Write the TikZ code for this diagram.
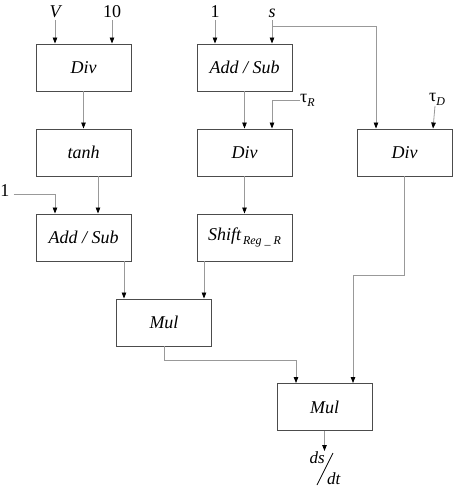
\documentclass[tikz,border=0pt]{standalone}
\usepackage{fontspec}
\setmainfont{Liberation Serif}
\usetikzlibrary{arrows.meta}

\tikzset{
    blk/.style={draw=black!70, line width=0.9pt, minimum width=95pt, minimum height=47pt, inner sep=0pt, font=\fontsize{18}{20}\selectfont\itshape},
    wire/.style={draw=black!40, line width=0.8pt},
    arr/.style={wire, -{Triangle[length=6pt,width=4.5pt,black]}},
    lbl/.style={inner sep=0pt, anchor=base}
}
\newcommand{\sml}{\fontsize{12}{12}\selectfont\itshape}

\begin{document}
\begin{tikzpicture}[x=1pt, y=-1pt, font=\fontsize{18}{20}\selectfont]

\useasboundingbox (0,0) rectangle (454,487);

% blocks
\node[blk] (div1)  at (83.5,67.5)  {Div};
\node[blk] (tanh)  at (83.5,152.5) {tanh};
\node[blk] (addL)  at (83.5,237.5) {Add / Sub};
\node[blk] (mul1)  at (164,322.5)  {Mul};
\node[blk] (addM)  at (244.5,67.5) {Add / Sub};
\node[blk] (divM)  at (244.5,152.5) {Div};
\node[blk] (shift) at (244.5,237.5) {Shift\raisebox{-4pt}{\sml\,Reg \_ R}};
\node[blk] (divR)  at (404.5,152.5) {Div};
\node[blk] (mul2)  at (324.5,407)  {Mul};

% inputs
\node[lbl] (V)    at (55,18)   {\itshape V};
\node[lbl] (ten)  at (112,18)  {10};
\node[lbl] (oneM) at (215,18)  {1};
\node[lbl] (s)    at (272,18)  {\itshape s};
\node[lbl] (oneL) at (5,196)   {1};
\node[lbl, anchor=west] (tauR) at (300,100) {τ\raisebox{-4pt}{\sml R}};
\node[lbl, anchor=south] (tauD) at (437,106) {τ\raisebox{-4pt}{\sml D}};

% ds/dt
\node[lbl, anchor=base east, font=\fontsize{17}{17}\selectfont\itshape] (ds) at (325,463) {ds};
\node[lbl, anchor=base west, font=\fontsize{17}{17}\selectfont\itshape] (dt) at (327,484) {dt};
\draw[line width=0.7pt] (317,485) -- (333,453);

\coordinate (sfork) at (272,26);

% connectors
\draw[arr] (V.south) ++(0,2) -- (div1.north -| V);
\draw[arr] (ten.south) ++(0,2) -- (div1.north -| ten);
\draw[arr] (oneM.south) ++(0,2) -- (addM.north -| oneM);
\draw[arr] (s.south) ++(0,2) -- (addM.north -| s);
\draw[arr] (sfork) -| ([xshift=-28.5pt]divR.north);
\draw[arr] (tauD.south) ++(-2,0) -- ([xshift=28.5pt]divR.north);
\draw[arr] (tauR.west) -| ([xshift=27.5pt]divM.north);

\draw[arr] (div1) -- (tanh);
\draw[arr] ([xshift=14.5pt]tanh.south) -- ([xshift=14.5pt]addL.north);
\draw[arr] ([xshift=4pt,yshift=-4pt]oneL.east) -| ([xshift=-28.5pt]addL.north);
\draw[arr] (addM) -- (divM);
\draw[arr] (divM) -- (shift);

\draw[arr] ([xshift=40.5pt]addL.south) -- ([xshift=-40pt]mul1.north);
\draw[arr] ([xshift=-40.5pt]shift.south) -- ([xshift=40pt]mul1.north);

\draw[arr] (mul1.south) |- (296,360) -- ([xshift=-28.5pt]mul2.north);
\draw[arr] (divR.south) |- (353,275) -- ([xshift=28.5pt]mul2.north);
\draw[arr] (mul2.south) -- (mul2.south |- ds.north);

\end{tikzpicture}
\end{document}
